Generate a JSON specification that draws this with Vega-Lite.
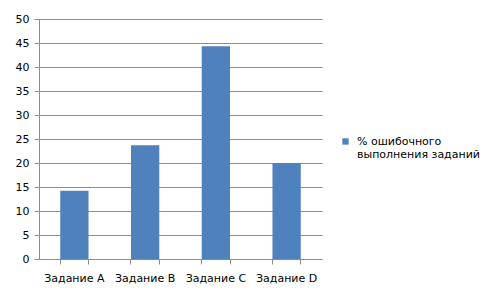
{
  "$schema": "https://vega.github.io/schema/vega-lite/v6.json",
  "width": 283,
  "height": 240,
  "autosize": {"type": "none"},
  "padding": {"left": 39, "top": 19, "right": 162, "bottom": 40},
  "background": "white",
  "config": {
    "view": {"stroke": null},
    "font": "DejaVu Sans",
    "axis": {
      "labelFont": "DejaVu Sans",
      "labelFontSize": 11,
      "labelColor": "#000000",
      "domainColor": "#8c8c8c",
      "tickColor": "#8c8c8c",
      "gridColor": "#8c8c8c",
      "title": null
    },
    "legend": {"labelFont": "DejaVu Sans", "labelFontSize": 11, "labelColor": "#000000"}
  },
  "data": {
    "values": [
      {"task": "Задание A", "value": 14.2, "series": "% ошибочного выполнения заданий"},
      {"task": "Задание B", "value": 23.7, "series": "% ошибочного выполнения заданий"},
      {"task": "Задание C", "value": 44.3, "series": "% ошибочного выполнения заданий"},
      {"task": "Задание D", "value": 20, "series": "% ошибочного выполнения заданий"}
    ]
  },
  "layer": [
    {
      "mark": {"type": "bar"},
      "encoding": {
        "x": {
          "field": "task",
          "type": "nominal",
          "sort": null,
          "scale": {"paddingInner": 0.6, "paddingOuter": 0.3},
          "axis": {
            "orient": "bottom",
            "labelAngle": 0,
            "bandPosition": 0,
            "tickSize": 5,
            "labelPadding": 8,
            "grid": false
          }
        },
        "y": {
          "field": "value",
          "type": "quantitative",
          "scale": {"domain": [0, 50], "nice": false},
          "axis": {"values": [0, 5, 10, 15, 20, 25, 30, 35, 40, 45, 50], "tickSize": 5, "labelPadding": 5, "grid": true}
        },
        "color": {
          "field": "series",
          "type": "nominal",
          "scale": {"range": ["#4f81bd"]},
          "legend": {
            "title": null,
            "orient": "none",
            "legendX": 301,
            "legendY": 117,
            "symbolType": "square",
            "symbolSize": 40,
            "labelOffset": 6,
            "labelExpr": "['% ошибочного', 'выполнения заданий']"
          }
        }
      }
    },
    {
      "mark": {"type": "bar", "opacity": 0},
      "encoding": {
        "x": {
          "field": "task",
          "type": "nominal",
          "sort": null,
          "axis": {
            "orient": "bottom",
            "bandPosition": 1,
            "tickSize": 5,
            "labels": false,
            "domain": false,
            "grid": false
          }
        }
      }
    }
  ],
  "resolve": {"axis": {"x": "independent"}}
}
